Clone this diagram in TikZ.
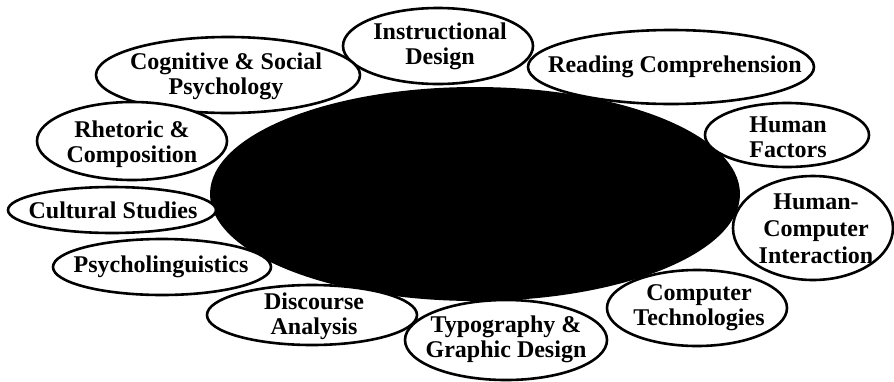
\documentclass[tikz,border=0pt]{standalone}
\usepackage{fontspec}
\setmainfont{Liberation Serif}
\begin{document}
\begin{tikzpicture}[x=1pt,y=-1pt,
  ell/.style={draw=black,line width=2.6pt,fill=white},
  lbl/.style={align=center,inner sep=0pt,font=\fontsize{24}{25}\selectfont\bfseries},
  core/.style={fill=black}]
\useasboundingbox (0,0) rectangle (894,381);
% central ellipse
\fill[core] (475,194) ellipse (265 and 107);
\node[inner sep=0pt] (center) at (475,194) {};
% surrounding ellipses
\draw[ell] (438,46) ellipse (95 and 38);
\node[lbl] (instr) at (440,46) {Instructional\\Design};
\draw[ell] (228,75) ellipse (132 and 38);
\node[lbl] (cog) at (226,76) {Cognitive \& Social\\Psychology};
\draw[ell] (132,141) ellipse (95 and 39);
\node[lbl] (rhet) at (132,144) {Rhetoric \&\\Composition};
\draw[ell] (671,67) ellipse (143 and 37);
\node[lbl] (read) at (675,67) {Reading Comprehension};
\draw[ell] (787,135) ellipse (82 and 32);
\node[lbl] (hf) at (788,137) {Human\\Factors};
\draw[ell] (813,228) ellipse (80 and 52);
\node[lbl,font=\fontsize{24}{27}\selectfont\bfseries] (hci) at (816,229) {Human-\\Computer\\Interaction};
\draw[ell] (697,308) ellipse (90 and 38);
\node[lbl] (comp) at (699,308) {Computer\\Technologies};
\draw[ell] (312,315) ellipse (105 and 30);
\node[lbl] (disc) at (314,316) {Discourse\\Analysis};
\draw[ell] (506,340) ellipse (101 and 40);
\node[lbl] (typo) at (506,339) {Typography \&\\Graphic Design};
\draw[ell] (162,267) ellipse (109 and 28);
\node[lbl] (psy) at (161,267) {Psycholinguistics};
\draw[ell] (112,210) ellipse (104 and 23);
\node[lbl] (cult) at (113,210) {Cultural Studies};
\end{tikzpicture}
\end{document}
